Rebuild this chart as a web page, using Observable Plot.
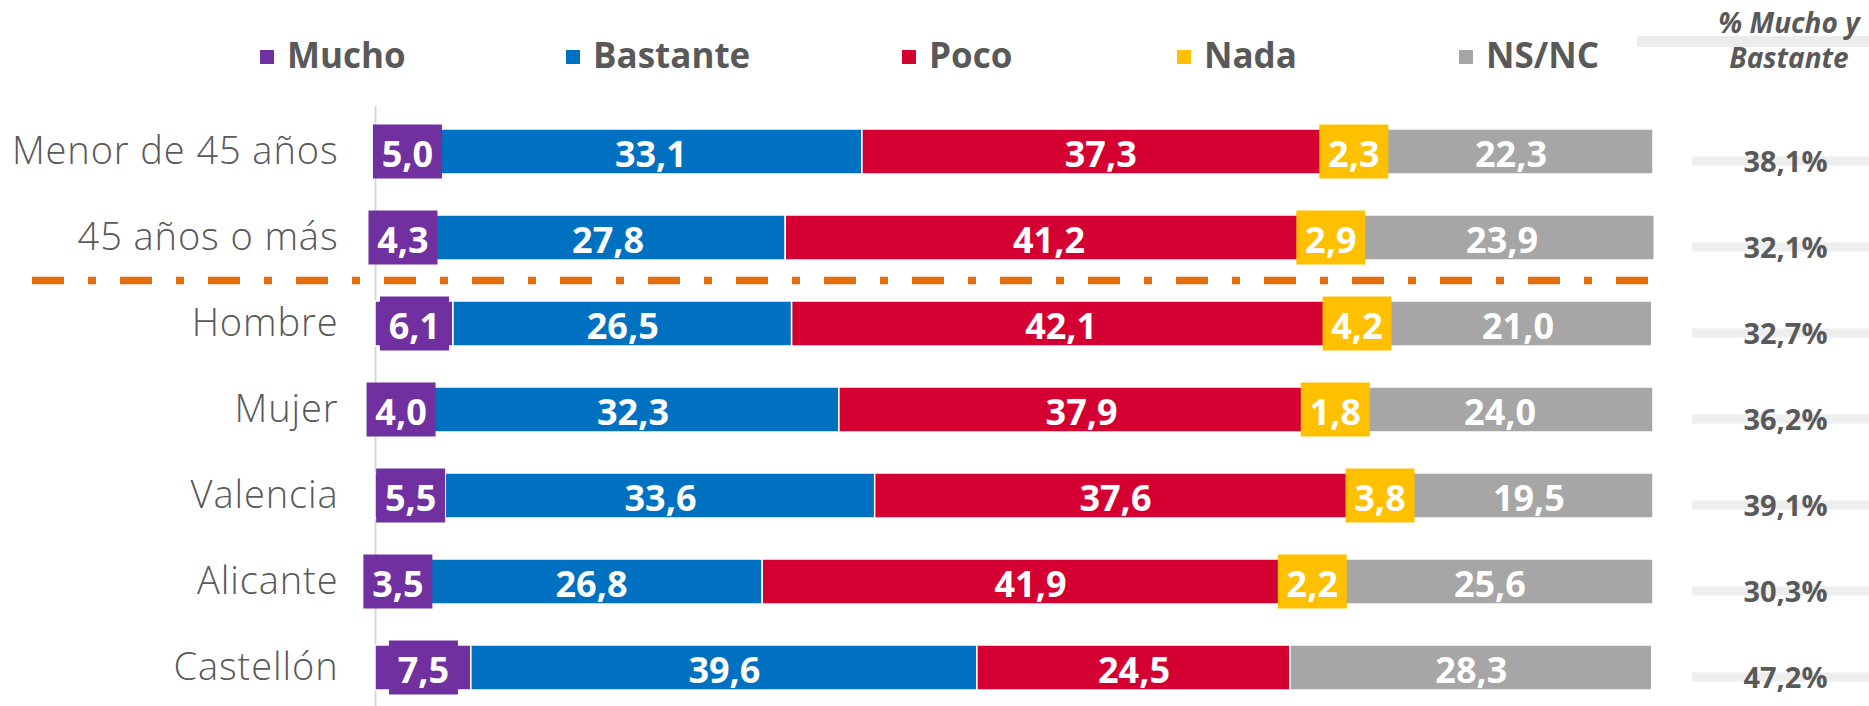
<!DOCTYPE html>
<html>
<head>
<meta charset="utf-8">
<script src="https://cdn.jsdelivr.net/npm/d3@7"></script>
<script src="https://cdn.jsdelivr.net/npm/@observablehq/plot@0.6"></script>
<style>
  html, body { margin: 0; padding: 0; background: #fff; overflow: hidden; }
  #wrap { position: relative; width: 1869px; height: 706px; overflow: hidden; font-family: 'Open Sans', sans-serif; color: #595959; }
  #topbox { position: relative; height: 100px; width: 1869px; }
  .sw { position: absolute; top: 50px; width: 14px; height: 14px; }
  .lt { position: absolute; top: 35px; height: 40px; line-height: 40px; font-size: 35px; font-weight: 700; white-space: nowrap; }
  #hdrbar { position: absolute; left: 1637px; top: 36px; width: 240px; height: 11px; background: #ececec; }
  #hdr { position: absolute; left: 1689px; top: 5px; width: 200px; text-align: center; font-size: 28px; line-height: 35px; font-weight: 700; font-style: italic; white-space: nowrap; }
  #chart svg g[aria-label="y-axis tick label"] text { font-weight: 300; letter-spacing: 0.9px; }
</style>
</head>
<body>
<div id="wrap">
  <div id="topbox"></div>
  <div id="chart"></div>
</div>
<script>
// ---- data ----
const groups = ["Menor de 45 años", "45 años o más", "Hombre", "Mujer", "Valencia", "Alicante", "Castellón"];
const categories = ["Mucho", "Bastante", "Poco", "Nada", "NS/NC"];
const mucho    = [5.0, 4.3, 6.1, 4.0, 5.5, 3.5, 7.5];
const bastante = [33.1, 27.8, 26.5, 32.3, 33.6, 26.8, 39.6];
const poco     = [37.3, 41.2, 42.1, 37.9, 37.6, 41.9, 24.5];
const nada     = [2.3, 2.9, 4.2, 1.8, 3.8, 2.2, null];
const nsnc     = [22.3, 23.9, 21.0, 24.0, 19.5, 25.6, 28.3];
const muchoBastante = [38.1, 32.1, 32.7, 36.2, 39.1, 30.3, 47.2];
const headerText = ["% Mucho y", "Bastante"];

// ---- styles ----
const colors = ["#7030A0", "#0070C0", "#D40032", "#FFC000", "#A6A6A6"];
const legendLeft = [260, 566, 902, 1177, 1459];
const boxed = ["Mucho", "Nada"];

// ---- stacked table ----
const series = [mucho, bastante, poco, nada, nsnc];
const rows = [];
groups.forEach((g, i) => {
  let acc = 0;
  categories.forEach((c, j) => {
    const v = series[j][i];
    if (v == null) return;
    rows.push({group: g, cat: c, value: v, x1: acc, x2: acc + v, mid: acc + v / 2});
    acc += v;
  });
});
const fmt = v => d3.format(".1f")(v).replace(".", ",");

// ---- legend + header (HTML above the svg) ----
const topBox = document.getElementById("topbox");
categories.forEach((c, i) => {
  const sw = document.createElement("div");
  sw.className = "sw";
  sw.style.left = legendLeft[i] + "px";
  sw.style.background = colors[i];
  topBox.appendChild(sw);
  const t = document.createElement("div");
  t.className = "lt";
  t.style.left = (legendLeft[i] + 27) + "px";
  t.textContent = c;
  topBox.appendChild(t);
});
const hb = document.createElement("div"); hb.id = "hdrbar"; topBox.appendChild(hb);
const hd = document.createElement("div"); hd.id = "hdr";
hd.innerHTML = headerText.join("<br>");
topBox.appendChild(hd);

// ---- chart ----
const chart = Plot.plot({
  width: 1869,
  height: 606,
  marginLeft: 375,
  marginRight: 216,
  marginTop: 26,
  marginBottom: 13.6,
  x: {domain: [0, 100], axis: null},
  y: {domain: groups, paddingInner: 0.482, paddingOuter: 0, label: null},
  color: {domain: categories, range: colors},
  style: {fontFamily: "'Open Sans', sans-serif", background: "white", color: "#595959", overflow: "hidden"},
  marks: [
    Plot.ruleX([0], {stroke: "#d9d9d9", strokeWidth: 2, insetTop: -20, insetBottom: -14}),
    Plot.axisY({tickSize: 0, tickPadding: 37, fontSize: 38, fill: "#595959", label: null}),
    Plot.barX(rows, {x1: "x1", x2: "x2", y: "group", fill: "cat", stroke: "white", strokeWidth: 1.5}),
    Plot.ruleY(["Hombre"], {dy: -43.45, stroke: "#E46C0A", strokeWidth: 7.5, strokeDasharray: "32,24,8,24", insetLeft: -343, insetRight: 4}),
    Plot.tickX(rows.filter(d => boxed.includes(d.cat)), {x: "mid", y: "group", stroke: "cat", strokeWidth: 69, insetTop: -4.5, insetBottom: -4.5}),
    Plot.text(rows, {x: "mid", y: "group", text: d => fmt(d.value), fill: "white", fontSize: 36, fontWeight: "bold", dy: 3}),
    Plot.ruleY(groups, {y: d => d, dy: 9, stroke: "#eeeeee", strokeWidth: 9, insetLeft: 1317, insetRight: -216}),
    Plot.text(groups, {y: d => d, text: (d, i) => fmt(muchoBastante[i]) + "%", frameAnchor: "right", textAnchor: "middle", dx: 132, dy: 11, fontSize: 29, fontWeight: "bold", fill: "#595959"})
  ]
});
document.getElementById("chart").appendChild(chart);
</script>
</body>
</html>
